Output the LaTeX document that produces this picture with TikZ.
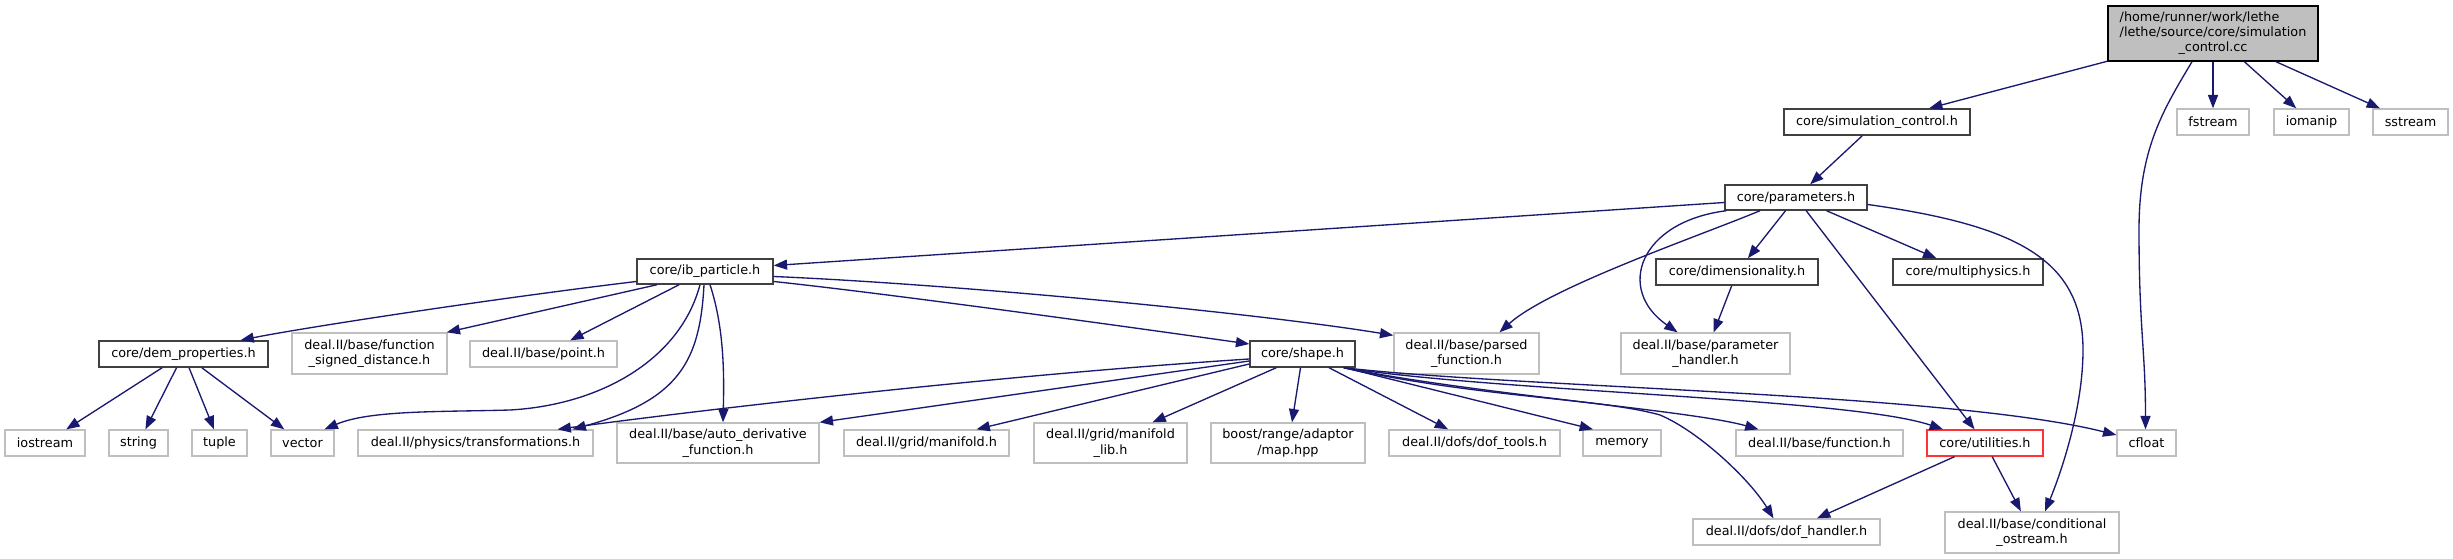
\documentclass[tikz,border=0pt]{standalone}
\usepackage{fontspec}
\setmainfont{DejaVu Sans}
\usetikzlibrary{arrows.meta,calc}
\definecolor{edgec}{HTML}{191970}
\definecolor{extc}{HTML}{BFBFBF}
\definecolor{intc}{HTML}{404040}
\definecolor{mainfill}{HTML}{BFBFBF}
\definecolor{redc}{HTML}{FF3333}
\newcommand{\mkbox}[7]{\node[#6, minimum width={(#4-#2)*0.75pt}, minimum height={(#5-#3)*0.75pt}] (#1) at ({(#2+#4)/2},{(#3+#5)/2}) {#7};}
\begin{document}
\begin{tikzpicture}[x=0.75pt,y=-0.75pt,
  box/.style={draw, rectangle, inner sep=0pt, font=\fontsize{9.6}{11.5}\selectfont, align=center, fill=white},
  intbox/.style={box, draw=intc, line width=1.1pt},
  extbox/.style={box, draw=extc, line width=1pt},
  redbox/.style={box, draw=redc, line width=1pt},
  mainbox/.style={box, draw=black, fill=mainfill, line width=1.1pt},
  dep/.style={draw=edgec, line width=1pt, -{Triangle[length=10pt,width=7.5pt]}}]
\fill[white] (0,0) rectangle (2453,559);
\useasboundingbox (0,0) rectangle (2453,559);
% nodes
\mkbox{main}{2108}{6}{2318}{61}{mainbox}{\begin{tabular}{@{}l@{}}/home/runner/work/lethe\\/lethe/source/core/simulation\\\multicolumn{1}{@{}c@{}}{\_control.cc}\end{tabular}}
\mkbox{simctl}{1784}{109}{1970}{135}{intbox}{core/simulation\_control.h}
\mkbox{fstream}{2177}{109}{2249}{135}{extbox}{fstream}
\mkbox{iomanip}{2274}{109}{2349}{135}{extbox}{iomanip}
\mkbox{sstream}{2373}{109}{2448}{135}{extbox}{sstream}
\mkbox{params}{1725}{185}{1867}{210}{intbox}{core/parameters.h}
\mkbox{ibp}{637}{259}{773}{284}{intbox}{core/ib\_particle.h}
\mkbox{dim}{1656}{259}{1818}{285}{intbox}{core/dimensionality.h}
\mkbox{multi}{1893}{259}{2043}{285}{intbox}{core/multiphysics.h}
\mkbox{dem}{99}{341}{268}{367}{intbox}{core/dem\_properties.h}
\mkbox{fsd}{292}{333}{447}{374}{extbox}{deal.II/base/function\\\_signed\_distance.h}
\mkbox{point}{470}{341}{617}{367}{extbox}{deal.II/base/point.h}
\mkbox{shape}{1250}{341}{1355}{367}{intbox}{core/shape.h}
\mkbox{parsed}{1394}{333}{1539}{374}{extbox}{deal.II/base/parsed\\\_function.h}
\mkbox{phandler}{1621}{333}{1790}{374}{extbox}{deal.II/base/parameter\\\_handler.h}
\mkbox{iostream}{5}{430}{85}{456}{extbox}{iostream}
\mkbox{string}{109}{430}{168}{456}{extbox}{string}
\mkbox{tuple}{192}{430}{247}{456}{extbox}{tuple}
\mkbox{vector}{271}{430}{334}{456}{extbox}{vector}
\mkbox{transf}{358}{430}{593}{456}{extbox}{deal.II/physics/transformations.h}
\mkbox{autod}{617}{423}{819}{463}{extbox}{deal.II/base/auto\_derivative\\\_function.h}
\mkbox{manifold}{844}{430}{1009}{456}{extbox}{deal.II/grid/manifold.h}
\mkbox{maniflib}{1034}{423}{1187}{463}{extbox}{deal.II/grid/manifold\\\_lib.h}
\mkbox{map}{1211}{423}{1365}{463}{extbox}{boost/range/adaptor\\/map.hpp}
\mkbox{doftools}{1389}{430}{1560}{456}{extbox}{deal.II/dofs/dof\_tools.h}
\mkbox{memory}{1583}{430}{1661}{456}{extbox}{memory}
\mkbox{function}{1736}{430}{1903}{456}{extbox}{deal.II/base/function.h}
\mkbox{util}{1927}{430}{2043}{456}{redbox}{core/utilities.h}
\mkbox{cfloat}{2117}{430}{2176}{456}{extbox}{cfloat}
\mkbox{dofh}{1693}{519}{1880}{545}{extbox}{deal.II/dofs/dof\_handler.h}
\mkbox{condo}{1945}{512}{2119}{553}{extbox}{deal.II/base/conditional\\\_ostream.h}
% via points
\coordinate (cfv) at (2139,230);
\coordinate (cov) at (2083,350);
\coordinate (vv) at (510,410);
\coordinate (dfv) at (1660,415);
% edges from main
\draw[dep] (main) -- (simctl);
\draw[dep] (main) -- (fstream);
\draw[dep] (main) -- (iomanip);
\draw[dep] (main) -- (sstream);
\draw[dep] ($(main.south)+(-21,0)$) .. controls +(-30,50) and +(0,-80) .. (cfv) .. controls +(0,100) and +(0,-80) .. ($(cfloat.north)+(-1,0)$);
% simulation_control
\draw[dep] (simctl) -- (params);
% parameters
\draw[dep] ($(params.west)+(0,5)$) -- ($(ibp.east)+(0,-6)$);
\draw[dep] ($(params.south)+(-36,0)$) .. controls +(-60,25) and +(50,-45) .. ($(parsed.north)+(33,0)$);
\draw[dep] ($(params.south west)+(2,0)$) .. controls +(-87,11) and +(-62,-43) .. ($(phandler.north)+(-28,0)$);
\draw[dep] (params) -- (dim);
\draw[dep] (params) -- (multi);
\draw[dep] (params) -- (util);
\draw[dep] ($(params.east)+(0,7)$) .. controls +(150,21) and +(0,-90) .. (cov) .. controls +(0,60) and +(15,-36) .. ($(condo.north)+(13,0)$);
\draw[dep] (dim) -- (phandler);
% ib_particle
\draw[dep] ($(ibp.west)+(0,10)$) .. controls +(-150,18) and +(60,-12) .. ($(dem.north)+(57,0)$);
\draw[dep] ($(ibp.south)+(-48,0)$) -- ($(fsd.north east)+(-1,0)$);
\draw[dep] (ibp) -- (point);
\draw[dep] ($(ibp.south)+(-5,0)$) .. controls (680,360) and (600,405) .. (vv) .. controls (440,412) and (370,410) .. ($(vector.north)+(22,0)$);
\draw[dep] ($(ibp.south)+(-1,0)$) .. controls (700,360) and (680,400) .. ($(transf.north)+(97,0)$);
\draw[dep] ($(ibp.south)+(5,0)$) .. controls (725,330) and (724,380) .. ($(autod.north)+(5,0)$);
\draw[dep] ($(ibp.east)+(0,10)$) .. controls (900,295) and (1150,330) .. ($(shape.west)+(0,-10)$);
\draw[dep] ($(ibp.east)+(0,5)$) .. controls (950,284) and (1250,312) .. ($(parsed.north west)+(0,3)$);
% dem_properties
\draw[dep] (dem) -- (iostream);
\draw[dep] (dem) -- (string);
\draw[dep] (dem) -- (tuple);
\draw[dep] (dem) -- (vector);
% shape
\draw[dep] ($(shape.west)+(0,5)$) .. controls (1000,375) and (700,410) .. ($(transf.north)+(82,0)$);
\draw[dep] ($(shape.west)+(0,7)$) -- (autod.north east);
\draw[dep] ($(shape.west)+(0,10)$) -- ($(manifold.north)+(50,0)$);
\draw[dep] ($(shape.south west)+(27,0)$) -- ($(maniflib.north)+(42,0)$);
\draw[dep] ($(shape.south)+(-2,0)$) -- ($(map.north)+(4,0)$);
\draw[dep] (shape) -- (doftools);
\draw[dep] ($(shape.south)+(42,0)$) -- ($(memory.north)+(-29,0)$);
\draw[dep] ($(shape.south east)+(-12,0)$) .. controls (1480,395) and (1690,410) .. ($(function.north)+(-61,0)$);
\draw[dep] ($(shape.south east)+(-12,0)$) .. controls (1500,392) and (1850,398) .. ($(util.north)+(-42,0)$);
\draw[dep] ($(shape.south east)+(-12,0)$) .. controls (1520,388) and (1950,393) .. ($(cfloat.west)+(0,-8)$);
\draw[dep] ($(shape.south east)+(-12,0)$) .. controls (1480,398) and (1600,398) .. (dfv) .. controls (1700,432) and (1750,480) .. ($(dofh.north)+(-13,0)$);
% utilities
\draw[dep] (util) -- (dofh);
\draw[dep] (util) -- (condo);
\end{tikzpicture}
\end{document}
